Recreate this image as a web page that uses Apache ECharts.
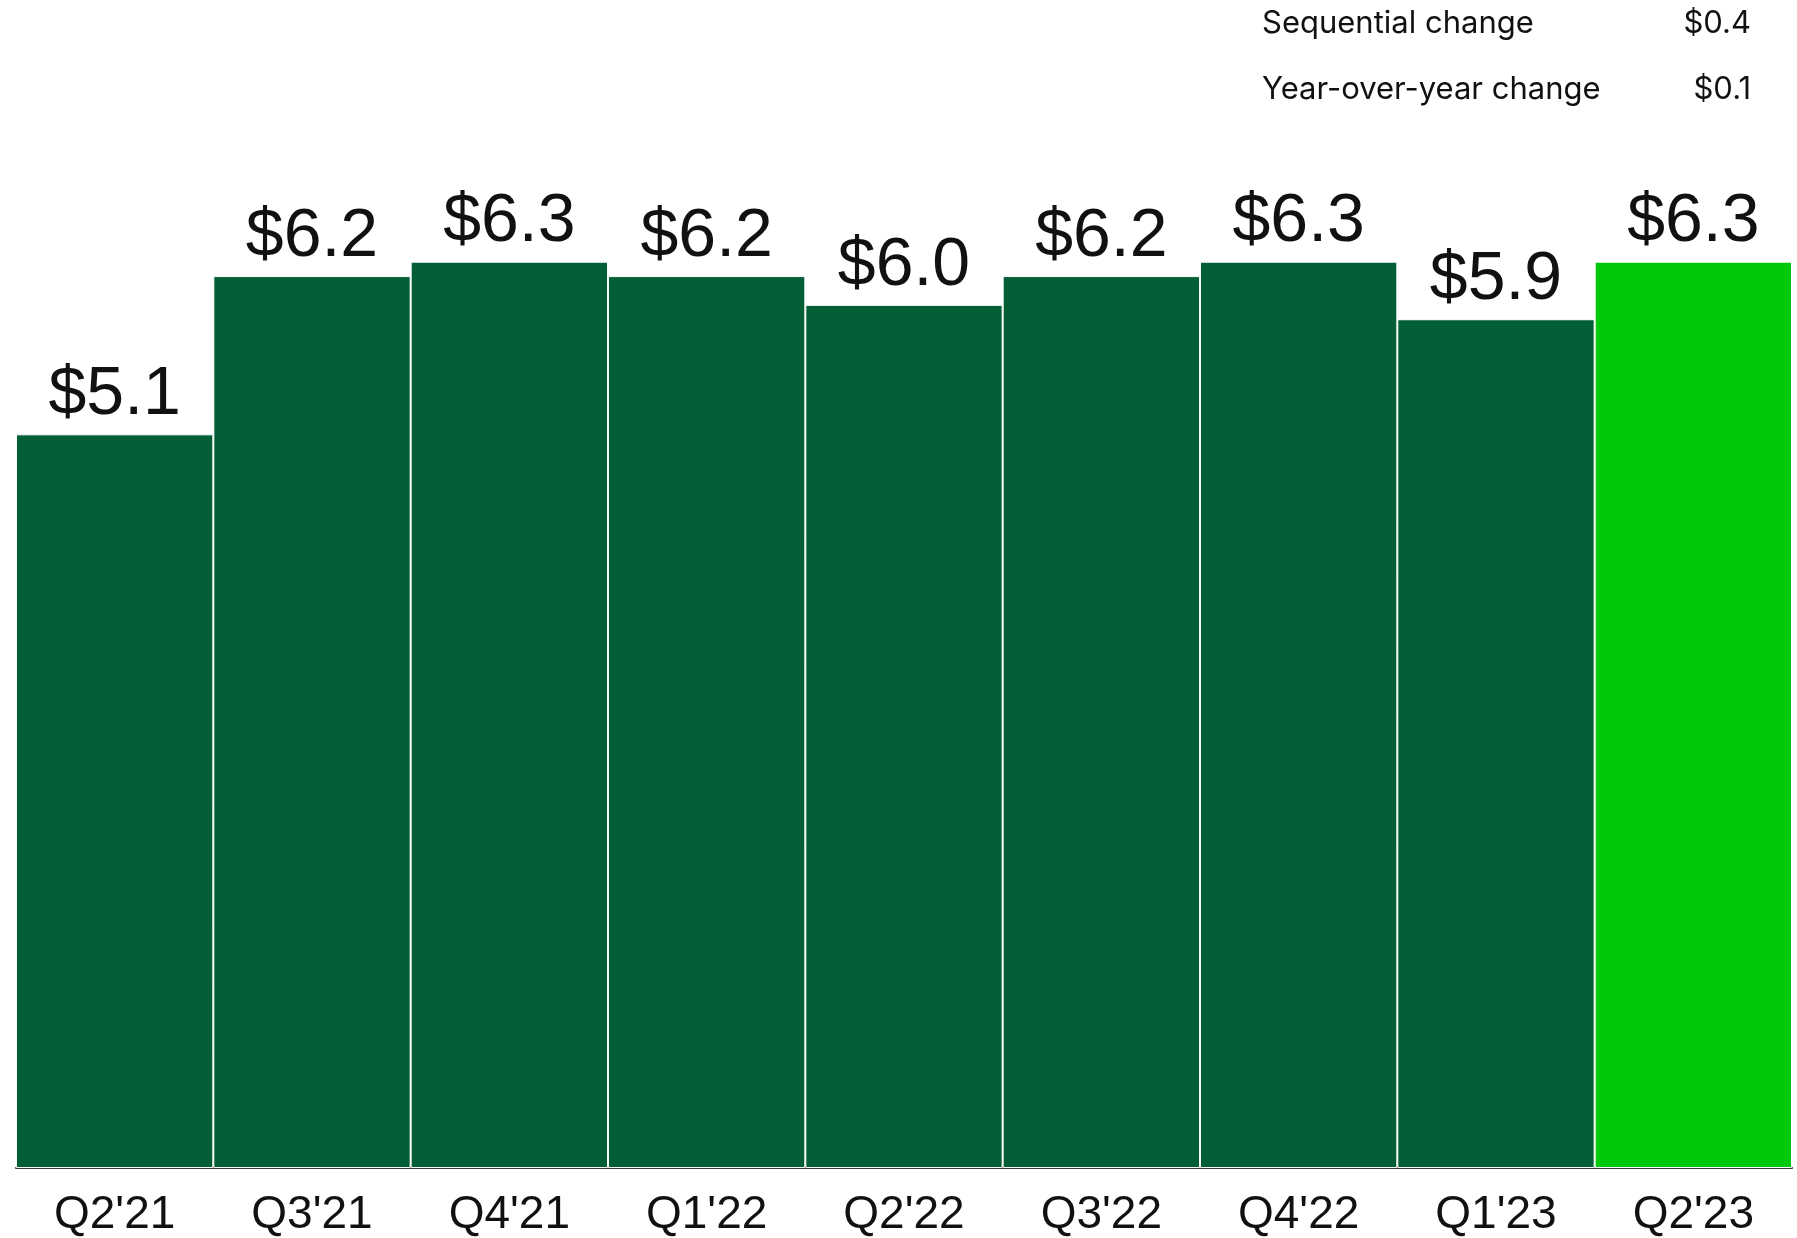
<!DOCTYPE html>
<html>
<head>
<meta charset="utf-8">
<script src="https://cdn.jsdelivr.net/npm/echarts@6/dist/echarts.min.js"></script>
<style>html,body{margin:0;padding:0;background:#fff;}#c{width:1797px;height:1238px;}</style>
</head>
<body>
<div id="c"></div>
<script>
const categories = ["Q2'21","Q3'21","Q4'21","Q1'22","Q2'22","Q3'22","Q4'22","Q1'23","Q2'23"];
const values = [5.1, 6.2, 6.3, 6.2, 6.0, 6.2, 6.3, 5.9, 6.3];
const tableLabels = ["Sequential change", "Year-over-year change"];
const tableValues = ["$0.4", "$0.1"];

const DARK = '#025E35';
const BRIGHT = '#00C80A';

const chart = echarts.init(document.getElementById('c'));
const graphics = [];
tableLabels.forEach((t, i) => {
  graphics.push({type:'text', left:1262, top: 8 + i*66,
    style:{text:t, font:'400 31px Inter', fill:'#111'}});
  graphics.push({type:'text', right:46, top: 8 + i*66,
    style:{text:tableValues[i], font:'400 31px Inter', fill:'#111', textAlign:'right'}});
});

chart.setOption({
  animation:false,
  grid:{left:16, right:5, top:161, bottom:69, containLabel:false},
  xAxis:{type:'category', data:categories,
    axisLine:{lineStyle:{color:'#3a3a3a', width:2}},
    axisTick:{show:false},
    axisLabel:{fontFamily:'Liberation Sans', fontSize:46, color:'#111', margin:24}},
  yAxis:{type:'value', min:0, max:7, show:false, splitLine:{show:false}},
  graphic: graphics,
  series:[{
    type:'bar', barCategoryGap:'0%',
    data: values.map((v,i)=>({value:v, itemStyle:{color: i===values.length-1 ? BRIGHT : DARK}})),
    itemStyle:{borderColor:'#fff', borderWidth:1},
    label:{show:true, position:'top', distance:5,
      formatter: p => '$' + p.value.toFixed(1),
      fontFamily:'Liberation Sans', fontSize:68, color:'#111'}
  }]
});
</script>
</body>
</html>
